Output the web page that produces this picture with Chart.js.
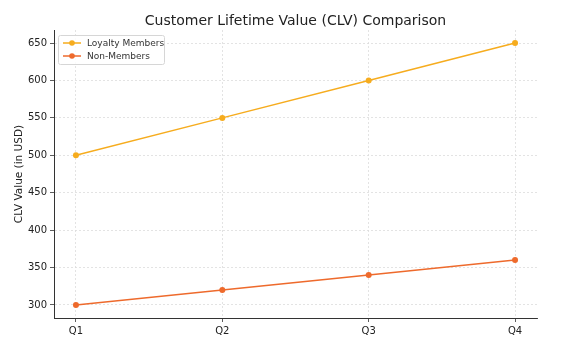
<!DOCTYPE html>
<html>
<head>
<meta charset="utf-8">
<script src="https://cdn.jsdelivr.net/npm/chart.js@4.4.3/dist/chart.umd.min.js"></script>
<style>
  html,body{margin:0;padding:0;background:#fff;}
  #wrap{width:563px;height:351px;}
</style>
</head>
<body>
<div id="wrap"><canvas id="c" width="563" height="351"></canvas></div>
<script>
// 데이터
const quarters = ['Q1', 'Q2', 'Q3', 'Q4'];
const loyaltyValues = [500, 550, 600, 650];
const nonMemberValues = [300, 320, 340, 360];
const yTicks = [300, 350, 400, 450, 500, 550, 600, 650];
const chartTitle = 'Customer Lifetime Value (CLV) Comparison';

const FONT = 'DejaVu Sans';
const LOYAL_COLOR = '#f6ac1e';
const NON_COLOR = '#ee6a2c';

// 제목: 축 영역 기준 가운데 정렬
const axesTitle = {
  id: 'axesTitle',
  afterDraw(chart){
    const {ctx, chartArea} = chart;
    ctx.save();
    ctx.font = `14px "${FONT}"`;
    ctx.fillStyle = '#222';
    ctx.textAlign = 'center';
    ctx.textBaseline = 'alphabetic';
    ctx.fillText(chartTitle, (chartArea.left + chartArea.right) / 2, 25);
    ctx.restore();
  }
};

// 범례: matplotlib 스타일 박스
const boxLegend = {
  id: 'boxLegend',
  afterDraw(chart){
    const {ctx, chartArea} = chart;
    const x0 = chartArea.left + 4, y0 = chartArea.top + 5;
    const w = 106, h = 29;
    ctx.save();
    ctx.fillStyle = 'rgba(255,255,255,0.85)';
    ctx.strokeStyle = '#d6d6d6';
    ctx.lineWidth = 1;
    ctx.beginPath();
    ctx.roundRect(x0 + 0.5, y0 + 0.5, w, h, 2);
    ctx.fill(); ctx.stroke();
    ctx.font = `9px "${FONT}"`;
    ctx.textBaseline = 'middle';
    chart.data.datasets.forEach((ds, i)=>{
      const y = y0 + 8 + i * 13;
      ctx.strokeStyle = ds.borderColor;
      ctx.lineWidth = 1.5;
      ctx.beginPath(); ctx.moveTo(x0 + 5, y); ctx.lineTo(x0 + 23, y); ctx.stroke();
      ctx.fillStyle = ds.borderColor;
      ctx.beginPath(); ctx.arc(x0 + 14, y, 2.8, 0, Math.PI * 2); ctx.fill();
      ctx.fillStyle = '#333';
      ctx.fillText(ds.label, x0 + 29, y + 0.5);
    });
    ctx.restore();
  }
};

const mkSet = (label, values, color)=>({
  label,
  data: values.map((v, i)=>({x: i, y: v})),
  borderColor: color,
  backgroundColor: color,
  borderWidth: 1.5,
  pointRadius: 3,
  pointBorderWidth: 0,
  tension: 0
});

new Chart(document.getElementById('c'), {
  type: 'line',
  data: {
    datasets: [
      mkSet('Loyalty Members', loyaltyValues, LOYAL_COLOR),
      mkSet('Non-Members', nonMemberValues, NON_COLOR)
    ]
  },
  options: {
    responsive: false,
    animation: false,
    devicePixelRatio: 1,
    layout: {padding: {left: 0, right: 26, top: 30, bottom: 0}},
    plugins: {
      legend: {display: false},
      tooltip: {enabled: false},
      title: {display: false}
    },
    scales: {
      x: {
        type: 'linear',
        min: -0.15,
        max: 3.15,
        afterBuildTicks: s=>{ s.ticks = quarters.map((_, i)=>({value: i})); },
        afterFit: s=>{ s.height = 33; },
        ticks: {
          callback: v=>quarters[v],
          color: '#222',
          font: {family: FONT, size: 10},
          padding: 3,
          maxRotation: 0
        },
        grid: {color: '#dcdcdc', lineWidth: 0.8, tickLength: 4, tickColor: '#333'},
        border: {display: true, color: '#333', width: 1, dash: [2, 2]}
      },
      y: {
        min: 282.5,
        max: 667.5,
        afterBuildTicks: s=>{ s.ticks = yTicks.map(v=>({value: v})); },
        afterFit: s=>{ s.width = 54; },
        ticks: {
          color: '#222',
          font: {family: FONT, size: 10},
          padding: 3
        },
        title: {
          display: true,
          text: 'CLV Value (in USD)',
          color: '#222',
          font: {family: FONT, size: 10.5},
          padding: {top: 13, bottom: 0}
        },
        grid: {color: '#dcdcdc', lineWidth: 0.8, tickLength: 4, tickColor: '#333'},
        border: {display: true, color: '#333', width: 1, dash: [2, 2]}
      }
    }
  },
  plugins: [axesTitle, boxLegend]
});
</script>
</body>
</html>
